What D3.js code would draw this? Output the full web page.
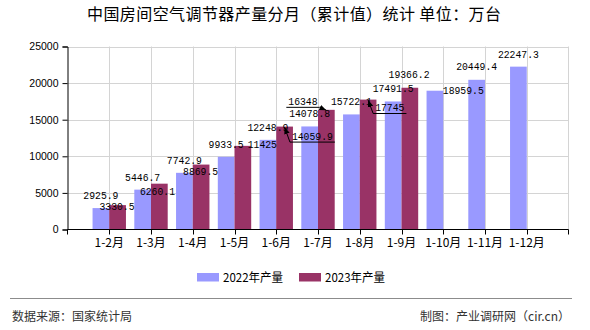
<!DOCTYPE html>
<html><head><meta charset="utf-8">
<script src="https://cdn.jsdelivr.net/npm/d3@7"></script>
<style>
html,body{margin:0;padding:0;background:#fff;}
svg{display:block;}
</style></head>
<body>
<svg id="chart" width="590" height="330"></svg>
<script>
const categories = ["1-2月","1-3月","1-4月","1-5月","1-6月","1-7月","1-8月","1-9月","1-10月","1-11月","1-12月"];
const values2022 = [2925.9, 5446.7, 7742.9, 9933.5, 12248.9, 14078.8, 15722.1, 17491.5, 18959.5, 20449.4, 22247.3];
const values2023 = [3330.5, 6260.1, 8869.5, 11425, 14059.9, 16348, 17745, 19366.2];
const labels2022 = ["2925.9","5446.7","7742.9","9933.5","12248.9","14078.8","15722.1","17491.5","18959.5","20449.4","22247.3"];
const labels2023 = ["3330.5","6260.1","8869.5","11425","14059.9","16348","17745","19366.2"];
const yTicks = [0, 5000, 10000, 15000, 20000, 25000];
const seriesNames = ["2022年产量","2023年产量"];
const title = "中国房间空气调节器产量分月（累计值）统计 单位：万台";
const sourceText = "数据来源：国家统计局";
const creditText = "制图：产业调研网（cir.cn）";

// label layout (offset of label centre from bar top centre; callout flag)
const offsets2022 = [[0,-12],[0,-12],[0,-12],[0,-12],[0,-12],[0,-12],[0,-12.5],[0,-12.5],[28.4,0.3],[0,-12.5],[0,-12]];
const offsets2023 = [[-0.6,1.9,0],[-1.9,8.5,0],[-0.5,7.7,0],[19.5,-0.4,0],[27.8,10,1],[-23.4,-8,1],[21.7,8.4,1],[-0.8,-12.4,0]];

const colors = ["#9999ff", "#993366"];
const svg = d3.select("#chart");
const L = 67.5, R = 568.5, T = 46.5, B = 229.5;

const x = d3.scalePoint().domain(categories).range([L, R]).padding(1);
const y = d3.scaleLinear().domain([0, 25000]).range([B, T]);
const bw = x.step() * 0.4;

// defs: arrow
svg.append("defs").append("marker")
  .attr("id","arr").attr("viewBox","0 0 10 10").attr("refX",10).attr("refY",5)
  .attr("markerWidth",7).attr("markerHeight",7).attr("orient","auto")
  .append("path").attr("d","M0,1 L10,5 L0,9 Z").attr("fill","#000");

// title
svg.append("text").attr("x", 294).attr("y", 20)
  .attr("text-anchor","middle")
  .attr("font-family","'Noto Sans CJK SC', sans-serif").attr("font-size","16px")
  .attr("fill","#000").attr("textLength", 414).attr("lengthAdjust","spacing")
  .text(title);

// grid
const grid = svg.append("g");
grid.selectAll("line.h").data(yTicks.slice(1)).join("line")
  .attr("x1", L).attr("x2", R).attr("y1", d => Math.round(y(d)) + 0.5).attr("y2", d => Math.round(y(d)) + 0.5)
  .attr("stroke", "#d4d4d4").attr("stroke-width", 1);
grid.selectAll("line.v").data(categories).join("line")
  .attr("x1", d => Math.round(x(d)) + 0.5).attr("x2", d => Math.round(x(d)) + 0.5)
  .attr("y1", T).attr("y2", B).attr("stroke", "#d4d4d4");
grid.append("line").attr("x1", R).attr("x2", R).attr("y1", T).attr("y2", B).attr("stroke", "#d4d4d4");

// bars
svg.append("g").selectAll("rect").data(values2022).join("rect")
  .attr("x", (d,i) => x(categories[i]) - bw).attr("width", bw)
  .attr("y", d => y(d)).attr("height", d => B - y(d)).attr("fill", colors[0]);
svg.append("g").selectAll("rect").data(values2023).join("rect")
  .attr("x", (d,i) => x(categories[i])).attr("width", bw)
  .attr("y", d => y(d)).attr("height", d => B - y(d)).attr("fill", colors[1]);

// axes
const yAxis = d3.axisLeft(y).tickValues(yTicks).tickSize(5).tickPadding(4).tickFormat(d3.format("d"));
const gy = svg.append("g").attr("transform", `translate(${L},0)`).call(yAxis);
gy.select(".domain").attr("stroke","#000");
gy.selectAll(".tick line").attr("stroke","#000");
gy.selectAll("text").attr("font-family","'Liberation Sans', Arial, sans-serif").attr("font-size","10.5px").attr("fill","#000");

const gx = svg.append("g").attr("transform", `translate(0,${B})`);
gx.append("line").attr("x1", L).attr("x2", R).attr("y1", 0).attr("y2", 0).attr("stroke","#000");
const tickPos = [L].concat(categories.map(c => Math.round(x(c)) + 0.5)).concat([R]);
gx.selectAll("line.t").data(tickPos).join("line")
  .attr("x1", d => d).attr("x2", d => d).attr("y1", 0).attr("y2", 5).attr("stroke","#000");
gx.selectAll("text").data(categories).join("text")
  .attr("x", d => x(d)).attr("y", 17)
  .attr("text-anchor","middle")
  .attr("font-family","'Noto Sans CJK SC', sans-serif").attr("font-size","12px").attr("fill","#000")
  .text(d => d);

// labels
const lblFont = "'Liberation Mono', 'DejaVu Sans Mono', monospace";
const cw = 5.85;
function drawLabel(g, txt, cx, cy) {
  return g.append("text").attr("x", cx).attr("y", cy)
    .attr("text-anchor","middle").attr("dominant-baseline","central")
    .attr("font-family", lblFont).attr("font-size","11px").attr("fill","#000")
    .attr("textLength", txt.length * cw).attr("lengthAdjust","spacingAndGlyphs")
    .text(txt);
}
const lg = svg.append("g");
values2022.forEach((v, i) => {
  const bx = x(categories[i]) - bw / 2, by = y(v);
  drawLabel(lg, labels2022[i], bx + offsets2022[i][0], by + offsets2022[i][1]);
});
values2023.forEach((v, i) => {
  const bx = x(categories[i]) + bw / 2, by = y(v);
  const o = offsets2023[i];
  const cx = bx + o[0], cy = by + o[1];
  drawLabel(lg, labels2023[i], cx, cy);
  if (o[2]) {
    const half = labels2023[i].length * cw / 2 + 2;
    const uy = cy + 5.5;
    const x0 = cx - half, x1 = cx + half;
    const near = Math.abs(x0 - bx) < Math.abs(x1 - bx) ? x0 : x1;
    lg.append("line").attr("x1", x0).attr("x2", x1).attr("y1", uy).attr("y2", uy)
      .attr("stroke","#000").attr("stroke-width",1);
    lg.append("line").attr("x1", near).attr("y1", uy).attr("x2", bx).attr("y2", by + 0.5)
      .attr("stroke","#000").attr("stroke-width",1).attr("marker-end","url(#arr)");
  }
});

// legend
const leg = svg.append("g");
const legX = [197, 299];
seriesNames.forEach((n, i) => {
  leg.append("rect").attr("x", legX[i]).attr("y", 273).attr("width", 22).attr("height", 8.5).attr("fill", colors[i]);
  leg.append("text").attr("x", legX[i] + 26).attr("y", 282)
    .attr("font-family","'Noto Sans CJK SC', sans-serif").attr("font-size","12px").attr("fill","#000")
    .attr("textLength", 60).attr("lengthAdjust","spacingAndGlyphs")
    .text(n);
});

// footer
svg.append("line").attr("x1", 10).attr("x2", 572).attr("y1", 298.5).attr("y2", 298.5).attr("stroke","#8c8c8c").attr("stroke-width",1);
svg.append("text").attr("x", 12).attr("y", 321)
  .attr("font-family","'Noto Sans CJK SC', sans-serif").attr("font-size","12px").attr("fill","#333")
  .text(sourceText);
svg.append("text").attr("x", 570).attr("y", 321).attr("text-anchor","end")
  .attr("font-family","'Noto Sans CJK SC', sans-serif").attr("font-size","12px").attr("fill","#333")
  .text(creditText);
</script>
</body></html>
